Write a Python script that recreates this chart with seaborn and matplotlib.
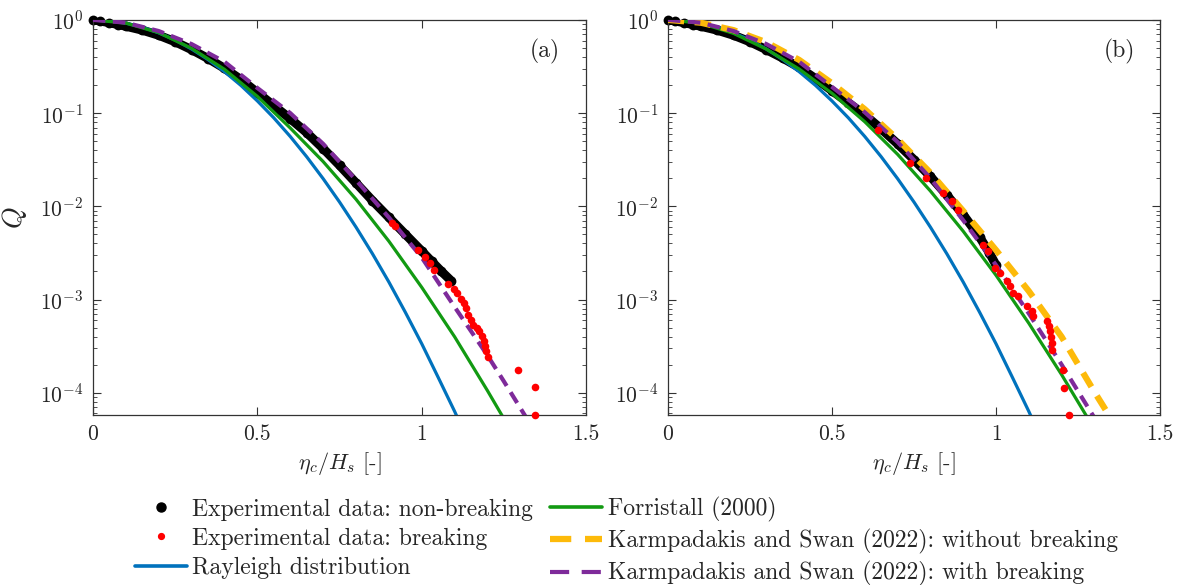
import numpy as np
import pandas as pd
import matplotlib.pyplot as plt
from matplotlib.lines import Line2D
import seaborn as sns

# crest exceedance probabilities
# (a) and (b) share the Rayleigh curve
x_ray = [0, 0.05, 0.1, 0.15, 0.2, 0.25, 0.3, 0.35, 0.4, 0.45, 0.5, 0.55, 0.6, 0.65,
         0.7, 0.75, 0.8, 0.85, 0.9, 0.95, 1.0, 1.05, 1.1, 1.12]
q_ray = [1.0, 0.980, 0.923, 0.835, 0.726, 0.607, 0.487, 0.375, 0.278, 0.198, 0.135,
         0.0889, 0.0561, 0.0340, 0.0198, 0.0111, 0.00598, 0.00310, 0.00154, 7.3e-4,
         3.35e-4, 1.46e-4, 6.3e-5, 4.4e-5]

# panel (a)
x_nb_a = [0, 0.02, 0.05, 0.076, 0.1, 0.15, 0.2, 0.25, 0.3, 0.35, 0.4, 0.45, 0.5,
          0.55, 0.6, 0.65, 0.7, 0.75, 0.8, 0.85, 0.9, 0.95, 1.0, 1.03, 1.06, 1.09]
q_nb_a = [1.0, 0.977, 0.933, 0.891, 0.855, 0.776, 0.684, 0.582, 0.479, 0.385, 0.302,
          0.229, 0.166, 0.120, 0.0871, 0.0617, 0.0417, 0.0275, 0.0178, 0.0115,
          0.00759, 0.00501, 0.00331, 0.00257, 0.00200, 0.00158]
x_br_a = [0.909, 0.919, 0.990, 1.010, 1.025, 1.037, 1.081, 1.098, 1.106, 1.119, 1.127,
          1.135, 1.142, 1.149, 1.157, 1.167, 1.175, 1.183, 1.190, 1.193, 1.196, 1.200,
          1.294, 1.345, 1.345]
q_br_a = [0.00662, 0.00619, 0.00343, 0.00286, 0.00247, 0.00209, 0.00145, 0.00130,
          0.00118, 0.00101, 9.18e-4, 8.13e-4, 6.89e-4, 6.10e-4, 5.38e-4, 4.95e-4,
          4.57e-4, 4.10e-4, 3.56e-4, 3.16e-4, 2.79e-4, 2.40e-4, 1.74e-4, 1.16e-4, 5.75e-5]
x_for_a = [0, 0.1, 0.2, 0.3, 0.4, 0.5, 0.6, 0.7, 0.8, 0.9, 1.0, 1.1, 1.2, 1.26]
q_for_a = [1.0, 0.923, 0.730, 0.495, 0.295, 0.151, 0.0692, 0.0302, 0.0119, 0.00422,
           0.00135, 3.98e-4, 1.05e-4, 4.57e-5]
x_ksb_a = [0, 0.1, 0.2, 0.3, 0.4, 0.5, 0.6, 0.7, 0.8, 0.9, 1.0, 1.1, 1.2, 1.25, 1.32]
q_ksb_a = [1.0, 0.933, 0.759, 0.550, 0.355, 0.186, 0.100, 0.0468, 0.0191, 0.00759,
           0.00282, 8.32e-4, 2.51e-4, 1.32e-4, 5.25e-5]

# panel (b)
x_nb_b = [0, 0.02, 0.05, 0.076, 0.1, 0.15, 0.2, 0.25, 0.3, 0.35, 0.4, 0.45, 0.5,
          0.55, 0.6, 0.65, 0.7, 0.75, 0.8, 0.85, 0.9, 0.95, 0.98, 1.0]
q_nb_b = [1.0, 0.977, 0.933, 0.891, 0.855, 0.776, 0.684, 0.582, 0.479, 0.389, 0.309,
          0.234, 0.174, 0.129, 0.0955, 0.0676, 0.0468, 0.0316, 0.0209, 0.0132,
          0.00813, 0.00468, 0.00316, 0.00234]
x_br_b = [0.641, 0.737, 0.788, 0.839, 0.865, 0.885, 0.961, 0.977, 0.997, 1.012, 1.032,
          1.042, 1.052, 1.068, 1.093, 1.109, 1.114, 1.155, 1.160, 1.165, 1.167, 1.170,
          1.170, 1.203, 1.208, 1.223]
q_br_b = [0.0662, 0.0291, 0.0201, 0.0139, 0.0113, 0.00920, 0.00389, 0.00329, 0.00218,
          0.00193, 0.00157, 0.00139, 0.00117, 0.00108, 8.45e-4, 7.48e-4, 6.61e-4,
          5.85e-4, 5.16e-4, 4.57e-4, 3.98e-4, 3.43e-4, 2.90e-4, 1.77e-4, 1.13e-4, 5.75e-5]
x_for_b = [0, 0.1, 0.2, 0.3, 0.4, 0.5, 0.6, 0.7, 0.8, 0.9, 1.0, 1.1, 1.2, 1.28]
q_for_b = [1.0, 0.920, 0.716, 0.485, 0.297, 0.163, 0.0807, 0.0361, 0.0146, 0.00540,
           0.00182, 5.56e-4, 1.56e-4, 5.31e-5]
x_ks_b = [0, 0.1, 0.2, 0.3, 0.4, 0.5, 0.6, 0.7, 0.8, 0.9, 1.0, 1.1, 1.2, 1.3, 1.36]
q_ks_b = [1.0, 0.933, 0.776, 0.575, 0.372, 0.209, 0.110, 0.0525, 0.0229, 0.00891,
          0.00339, 0.00123, 3.98e-4, 1.02e-4, 4.68e-5]
x_ksb_b = [0, 0.1, 0.2, 0.3, 0.4, 0.5, 0.6, 0.7, 0.8, 0.9, 1.0, 1.1, 1.2, 1.3]
q_ksb_b = [1.0, 0.933, 0.759, 0.550, 0.355, 0.191, 0.102, 0.0490, 0.0200, 0.00708,
           0.00234, 7.08e-4, 2.00e-4, 5.37e-5]

labels = ['Experimental data: non-breaking', 'Experimental data: breaking',
          'Rayleigh distribution', 'Forristall (2000)',
          'Karmpadakis and Swan (2022): without breaking',
          'Karmpadakis and Swan (2022): with breaking']

c_blue = '#0072BD'
c_green = '#129A12'
c_yellow = '#FDBA0A'
c_purple = '#7E2A9A'
c_red = '#FF0000'

dash_ks = (2.6, 1.7)
dash_ksb = (3.0, 1.8)

sns.set_style("ticks")
plt.rcParams['font.family'] = ['cmr10', 'DejaVu Serif']
plt.rcParams['mathtext.fontset'] = 'cm'
plt.rcParams['axes.formatter.use_mathtext'] = True
plt.rcParams['axes.unicode_minus'] = False

fig = plt.figure(figsize=(11.77, 5.85), dpi=100)
ax_a = fig.add_axes([0.079, 0.291, 0.419, 0.675])
ax_b = fig.add_axes([0.5675, 0.291, 0.4181, 0.675])


def curve(ax, x, q, color, lw, dashes=None, z=3):
    sns.lineplot(x=x, y=q, ax=ax, color=color, lw=lw, legend=False,
                 estimator=None, sort=False, zorder=z)
    line = ax.lines[-1]
    if dashes is not None:
        line.set_dashes(dashes)
        line.set_dash_capstyle('butt')


def panel(ax, x_nb, q_nb, x_br, q_br, x_for, q_for, x_ksb, q_ksb, x_ks=None, q_ks=None, tag=''):
    # thick band for the dense non-breaking data, plus the markers themselves
    sns.lineplot(x=x_nb, y=q_nb, ax=ax, color='black', lw=6.5, legend=False,
                 estimator=None, sort=False, zorder=2)
    sns.scatterplot(x=x_nb, y=q_nb, ax=ax, color='black', s=50, linewidth=0,
                    legend=False, zorder=2, clip_on=False)
    curve(ax, x_ray, q_ray, c_blue, 2.3, z=3)
    curve(ax, x_for, q_for, c_green, 2.3, z=4)
    if x_ks is not None:
        curve(ax, x_ks, q_ks, c_yellow, 4.5, dashes=dash_ks, z=5)
    curve(ax, x_ksb, q_ksb, c_purple, 3.0, dashes=dash_ksb, z=6)
    sns.scatterplot(x=x_br, y=q_br, ax=ax, color=c_red, s=30, linewidth=0,
                    legend=False, zorder=7, clip_on=False)

    ax.set_yscale('log')
    ax.set_xlim(0, 1.5)
    ax.set_ylim(5.8e-5, 1)
    ax.set_xticks([0, 0.5, 1, 1.5])
    ax.set_xticklabels(['0', '0.5', '1', '1.5'])
    ax.set_yticks([1e-4, 1e-3, 1e-2, 1e-1, 1])
    ax.tick_params(which='major', direction='in', length=6, width=0.8, labelsize=15.5,
                   top=True, right=True, color='#333333', pad=7)
    ax.tick_params(which='minor', direction='in', length=3, width=0.6,
                   top=False, right=True, color='#333333')
    for s in ax.spines.values():
        s.set_color('#333333')
        s.set_linewidth(0.9)
    ax.set_xlabel(r'$\eta_c/H_s$ [-]', fontsize=16, labelpad=4)
    ax.set_ylabel('')
    ax.text(0.917, 0.92, tag, transform=ax.transAxes, fontsize=17, ha='center', va='center')


panel(ax_a, x_nb_a, q_nb_a, x_br_a, q_br_a, x_for_a, q_for_a, x_ksb_a, q_ksb_a, tag='(a)')
panel(ax_b, x_nb_b, q_nb_b, x_br_b, q_br_b, x_for_b, q_for_b, x_ksb_b, q_ksb_b,
      x_ks_b, q_ks_b, tag='(b)')
ax_a.set_ylabel(r'$Q$', fontsize=20, labelpad=8)

handles = [
    Line2D([], [], ls='none', marker='o', ms=6.5, color='black'),
    Line2D([], [], ls='none', marker='o', ms=4.2, color=c_red),
    Line2D([], [], color=c_blue, lw=2.6),
    Line2D([], [], color=c_green, lw=2.6),
    Line2D([], [], color=c_yellow, lw=4.5, dashes=(3.4, 2.2), dash_capstyle='butt'),
    Line2D([], [], color=c_purple, lw=3.0, dashes=(4.6, 3.0), dash_capstyle='butt'),
]
fig.legend(handles, labels, ncol=2, loc='center', bbox_to_anchor=(0.532, 0.074),
           frameon=False, fontsize=17, handlelength=2.2, handletextpad=0.25,
           columnspacing=0.7, labelspacing=0.3)

fig.savefig('out.png', dpi=100)
